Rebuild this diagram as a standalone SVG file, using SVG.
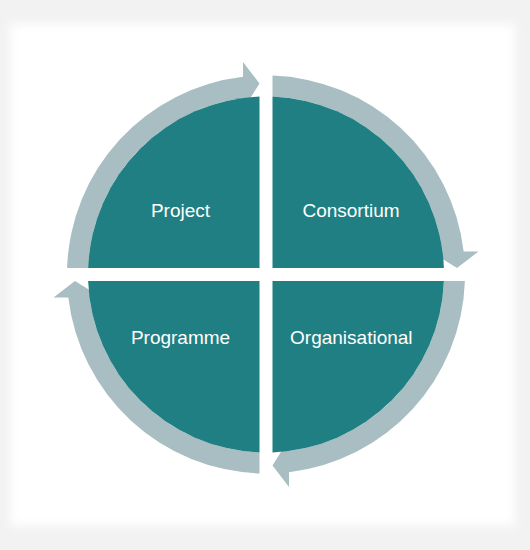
<svg xmlns="http://www.w3.org/2000/svg" width="530" height="550" viewBox="0 0 530 550">
  <style>
    .quad { fill: #207f82; }
    .ring { fill: #a9bec2; }
    .label { font-family: "Liberation Sans", Arial, sans-serif; font-size: 19px; fill: #ffffff; text-anchor: middle; }
  </style>
  <defs>
    <filter id="soft" x="-10%" y="-10%" width="120%" height="120%">
      <feGaussianBlur stdDeviation="5"/>
    </filter>
    <path id="arrowTL" d="M67.11,268 A199,199 0 0 1 243,76.83 L243,62 L259.5,83.5 L243,110 L243,97.99 A178,178 0 0 0 88.12,268 Z"/>
  </defs>
  <rect x="0" y="0" width="530" height="550" fill="#f2f2f2"/>
  <rect x="10" y="24" width="505" height="502" fill="#ffffff" filter="url(#soft)"/>

  <g id="connectors">
    <use href="#arrowTL" class="ring"/>
    <use href="#arrowTL" class="ring" transform="rotate(90 266 274.5)"/>
    <use href="#arrowTL" class="ring" transform="rotate(180 266 274.5)"/>
    <use href="#arrowTL" class="ring" transform="rotate(270 266 274.5)"/>
  </g>

  <g id="project">
    <path class="quad" d="M259.5,268 L88.12,268 A178,178 0 0 1 259.5,96.62 Z"/>
    <text class="label" x="180.5" y="217">Project</text>
  </g>
  <g id="consortium">
    <path class="quad" d="M272.5,268 L272.5,96.62 A178,178 0 0 1 443.88,268 Z"/>
    <text class="label" x="351" y="217">Consortium</text>
  </g>
  <g id="organisational">
    <path class="quad" d="M272.5,281 L443.88,281 A178,178 0 0 1 272.5,452.38 Z"/>
    <text class="label" x="351.3" y="344">Organisational</text>
  </g>
  <g id="programme">
    <path class="quad" d="M259.5,281 L259.5,452.38 A178,178 0 0 1 88.12,281 Z"/>
    <text class="label" x="180.5" y="344">Programme</text>
  </g>
</svg>
